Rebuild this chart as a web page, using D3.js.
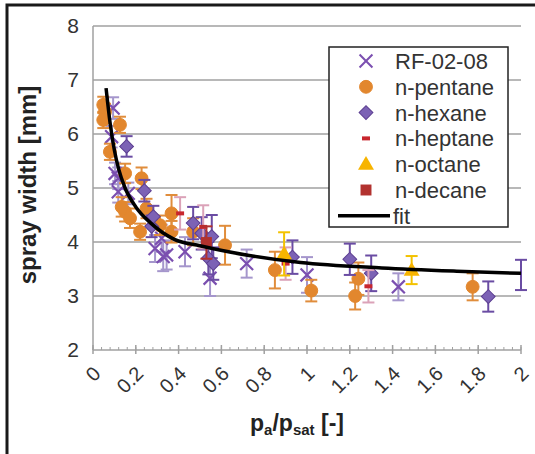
<!DOCTYPE html>
<html>
<head>
<meta charset="utf-8" />
<title>spray width</title>
<script src="https://cdn.jsdelivr.net/npm/d3@7"></script>
<style>
  body { margin: 0; background: #fff; }
  text { font-family: "Liberation Sans", Arial, sans-serif; }
</style>
</head>
<body>
<div id="chart"></div>
<script>
// --- data ---
var xTicks = [0, 0.2, 0.4, 0.6, 0.8, 1, 1.2, 1.4, 1.6, 1.8, 2];
var xTickLabels = ["0", "0.2", "0.4", "0.6", "0.8", "1", "1.2", "1.4", "1.6", "1.8", "2"];
var yTicks = [2, 3, 4, 5, 6, 7, 8];

var rfX   = [0.094, 0.087, 0.103, 0.118, 0.118, 0.165, 0.29, 0.321, 0.328, 0.344, 0.43, 0.547, 0.718, 1.0, 1.427];
var rfY   = [6.48, 5.95, 5.27, 5.18, 4.93, 4.9, 3.88, 4.07, 3.73, 3.76, 3.82, 3.33, 3.6, 3.39, 3.17];
var rfErr = [0.2, 0.2, 0.2, 0.2, 0.2, 0.2, 0.25, 0.25, 0.27, 0.27, 0.27, 0.33, 0.26, 0.33, 0.25];

var pentX   = [0.048, 0.056, 0.048, 0.126, 0.079, 0.15, 0.227, 0.15, 0.134, 0.173, 0.22, 0.25, 0.313, 0.367, 0.367, 0.468, 0.617, 0.85, 1.02, 1.24, 1.225, 1.774];
var pentY   = [6.54, 6.41, 6.26, 6.17, 5.67, 5.27, 5.18, 4.56, 4.65, 4.44, 4.19, 4.62, 4.31, 4.53, 4.19, 4.19, 3.94, 3.48, 3.1, 3.32, 3.0, 3.17];
var pentErr = [0.15, 0.15, 0.15, 0.15, 0.15, 0.18, 0.2, 0.18, 0.18, 0.18, 0.15, 0.18, 0.18, 0.34, 0.2, 0.25, 0.36, 0.34, 0.2, 0.3, 0.25, 0.25];

var hexX   = [0.157, 0.24, 0.274, 0.282, 0.468, 0.508, 0.555, 0.539, 0.562, 0.932, 1.2, 1.3, 1.847, 2.0];
var hexY   = [5.77, 4.95, 4.29, 4.47, 4.35, 4.16, 4.1, 3.7, 3.6, 3.72, 3.68, 3.42, 2.99, 3.39];
var hexErr = [0.19, 0.2, 0.2, 0.2, 0.3, 0.3, 0.4, 0.3, 0.3, 0.31, 0.29, 0.33, 0.28, 0.28];

var heptX   = [0.407, 0.515, 0.9, 1.287];
var heptY   = [4.53, 4.28, 3.6, 3.18];
var heptErr = [0.3, 0.4, 0.3, 0.3];

var octX   = [0.893, 1.489];
var octY   = [3.78, 3.48];
var octErr = [0.4, 0.26];

var decX   = [0.53];
var decY   = [3.99];
var decErr = [0.3];

var fitX = [0.061, 0.08, 0.1, 0.12, 0.15, 0.2, 0.27, 0.38, 0.5, 0.73, 0.97, 1.35, 1.7, 2.0];
var fitY = [6.85, 6.2, 5.7, 5.35, 5.0, 4.65, 4.35, 4.05, 3.93, 3.75, 3.62, 3.52, 3.46, 3.42];

var width = 535, height = 454;

var svg = d3.select("#chart").append("svg")
    .attr("width", width)
    .attr("height", height);

// outer frame
svg.append("path")
    .attr("d", "M7,460 L7,5 L540,5")
    .attr("fill", "none")
    .attr("stroke", "#1a1a1a")
    .attr("stroke-width", 3);

var x = d3.scaleLinear().domain([0, 2]).range([93, 521]);
var y = d3.scaleLinear().domain([2, 8]).range([350, 26]);

// gridlines
svg.selectAll(".grid").data(yTicks.slice(1)).enter().append("line")
    .attr("x1", x(0)).attr("x2", x(2))
    .attr("y1", function (d) { return y(d); })
    .attr("y2", function (d) { return y(d); })
    .attr("stroke", "#a0a0a0").attr("stroke-width", 1.5);

// axes
svg.append("line").attr("x1", x(0)).attr("x2", x(0)).attr("y1", y(8)).attr("y2", y(2))
    .attr("stroke", "#a0a0a0").attr("stroke-width", 1.5);
svg.append("line").attr("x1", x(0)).attr("x2", x(2)).attr("y1", y(2)).attr("y2", y(2))
    .attr("stroke", "#a0a0a0").attr("stroke-width", 1.5);

var minor = d3.range(0, 51).map(function (i) { return i * 0.04; });
svg.selectAll(".minor").data(minor).enter().append("line")
    .attr("x1", function (d) { return x(d); })
    .attr("x2", function (d) { return x(d); })
    .attr("y1", y(2) - 3).attr("y2", y(2))
    .attr("stroke", "#a0a0a0").attr("stroke-width", 1);
svg.selectAll(".major").data(xTicks).enter().append("line")
    .attr("x1", function (d) { return x(d); })
    .attr("x2", function (d) { return x(d); })
    .attr("y1", y(2) - 5).attr("y2", y(2) + 4)
    .attr("stroke", "#a0a0a0").attr("stroke-width", 1.5);

svg.selectAll(".ylab").data(yTicks).enter().append("text")
    .attr("x", 79)
    .attr("y", function (d) { return y(d) + 7; })
    .attr("text-anchor", "end")
    .attr("font-size", 21)
    .attr("fill", "#333")
    .text(function (d) { return d; });

svg.selectAll(".xlab").data(xTicks).enter().append("text")
    .attr("transform", function (d) { return "translate(" + (x(d) - 1) + ",365) rotate(-45)"; })
    .attr("text-anchor", "end")
    .attr("dy", "0.7em")
    .attr("font-size", 20)
    .attr("fill", "#333")
    .text(function (d, i) { return xTickLabels[i]; });

// axis titles
svg.append("text")
    .attr("transform", "translate(36,185) rotate(-90)")
    .attr("text-anchor", "middle")
    .attr("font-size", 24)
    .attr("font-weight", "bold")
    .attr("fill", "#222")
    .text("spray width [mm]");

var xt = svg.append("text")
    .attr("x", 297).attr("y", 431)
    .attr("text-anchor", "middle")
    .attr("font-size", 23)
    .attr("font-weight", "bold")
    .attr("fill", "#222");
xt.append("tspan").text("p");
xt.append("tspan").attr("font-size", 15).attr("dy", 4).text("a");
xt.append("tspan").attr("dy", -4).text("/p");
xt.append("tspan").attr("font-size", 15).attr("dy", 4).text("sat");
xt.append("tspan").attr("dy", -4).text(" [-]");

// markers
var sym = {
    x: d3.symbol().type(d3.symbolTimes).size(110),
    circle: d3.symbol().type(d3.symbolCircle).size(130),
    diamond: d3.symbol().type(d3.symbolSquare).size(95),
    dash: function () { return "M-4,-2h8v4h-8z"; },
    triangle: d3.symbol().type(d3.symbolTriangle).size(110),
    square: d3.symbol().type(d3.symbolSquare).size(120)
};

var series = [
    { label: "RF-02-08", xs: rfX, ys: rfY, es: rfErr, shape: "x", fill: "none", stroke: "#7b4fb0", err: "#a596cc" },
    { label: "n-pentane", xs: pentX, ys: pentY, es: pentErr, shape: "circle", fill: "#e2872e", stroke: "#e2872e", err: "#e08d3c" },
    { label: "n-hexane", xs: hexX, ys: hexY, es: hexErr, shape: "diamond", fill: "#7c62b5", stroke: "#5d3f92", err: "#6a4ca3" },
    { label: "n-heptane", xs: heptX, ys: heptY, es: heptErr, shape: "dash", fill: "#c8262e", stroke: "none", err: "#dba2b8" },
    { label: "n-octane", xs: octX, ys: octY, es: octErr, shape: "triangle", fill: "#f7b400", stroke: "none", err: "#f3c200" },
    { label: "n-decane", xs: decX, ys: decY, es: decErr, shape: "square", fill: "#b2322f", stroke: "none", err: "#b2322f" }
];

function markerTransform(shape, px, py) {
    var t = "translate(" + px + "," + py + ")";
    if (shape === "diamond") t += " rotate(45)";
    if (shape === "triangle") t += " translate(0,1)";
    return t;
}

series.forEach(function (s) {
    var pts = s.xs.map(function (v, i) { return { x: v, y: s.ys[i], e: s.es[i] }; });
    var g = svg.append("g");
    var eb = g.selectAll(".eb").data(pts).enter().append("g")
        .attr("stroke", s.err).attr("stroke-width", 2).attr("fill", "none");
    eb.append("line")
        .attr("x1", function (d) { return x(d.x); }).attr("x2", function (d) { return x(d.x); })
        .attr("y1", function (d) { return y(d.y + d.e); }).attr("y2", function (d) { return y(d.y - d.e); });
    eb.append("line")
        .attr("x1", function (d) { return x(d.x) - 6; }).attr("x2", function (d) { return x(d.x) + 6; })
        .attr("y1", function (d) { return y(d.y + d.e); }).attr("y2", function (d) { return y(d.y + d.e); });
    eb.append("line")
        .attr("x1", function (d) { return x(d.x) - 6; }).attr("x2", function (d) { return x(d.x) + 6; })
        .attr("y1", function (d) { return y(d.y - d.e); }).attr("y2", function (d) { return y(d.y - d.e); });
    // markers sitting on the right border are clipped away
    g.selectAll(".mk").data(pts.filter(function (d) { return d.x < 2; })).enter().append("path")
        .attr("d", sym[s.shape])
        .attr("transform", function (d) { return markerTransform(s.shape, x(d.x), y(d.y)); })
        .attr("fill", s.fill)
        .attr("stroke", s.stroke)
        .attr("stroke-width", s.shape === "x" ? 2.2 : 1);
});

// fit
var fitPts = fitX.map(function (v, i) { return [v, fitY[i]]; });
svg.append("path")
    .datum(fitPts)
    .attr("d", d3.line().x(function (d) { return x(d[0]); }).y(function (d) { return y(d[1]); }).curve(d3.curveMonotoneX))
    .attr("fill", "none")
    .attr("stroke", "#000")
    .attr("stroke-width", 3.5);

// legend
var lg = svg.append("g");
lg.append("rect")
    .attr("x", 329).attr("y", 47).attr("width", 179).attr("height", 180)
    .attr("fill", "#fff").attr("stroke", "#222").attr("stroke-width", 1.5);

var rowY = function (i) { return 61 + i * 25.8; };
series.forEach(function (s, i) {
    lg.append("path")
        .attr("d", sym[s.shape])
        .attr("transform", markerTransform(s.shape, 366, rowY(i)))
        .attr("fill", s.fill)
        .attr("stroke", s.stroke)
        .attr("stroke-width", s.shape === "x" ? 2 : 1);
    lg.append("text")
        .attr("x", 395).attr("y", rowY(i) + 8)
        .attr("font-size", 22)
        .attr("fill", "#333")
        .text(s.label);
});
lg.append("line")
    .attr("x1", 338).attr("x2", 390).attr("y1", rowY(6)).attr("y2", rowY(6))
    .attr("stroke", "#000").attr("stroke-width", 3.5);
lg.append("text")
    .attr("x", 393).attr("y", rowY(6) + 8)
    .attr("font-size", 22)
    .attr("fill", "#333")
    .text("fit");
</script>
</body>
</html>
